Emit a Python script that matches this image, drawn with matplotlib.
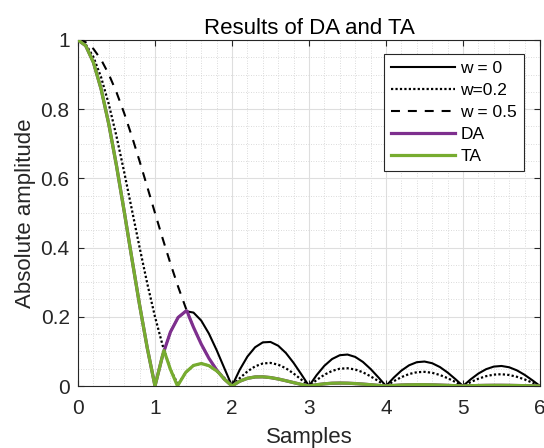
import matplotlib
matplotlib.use("Agg")
import matplotlib.pyplot as plt
from matplotlib.ticker import MultipleLocator

plt.rcParams['font.family'] = ['Liberation Sans', 'DejaVu Sans']

# ---------------- data ----------------
x_base = [0.0, 0.1, 0.2, 0.3, 0.4, 0.5, 0.6, 0.7, 0.8, 0.9,
          1.0, 1.1, 1.2, 1.3, 1.4, 1.5, 1.6, 1.7, 1.8, 1.9,
          2.0, 2.1, 2.2, 2.3, 2.4, 2.5, 2.6, 2.7, 2.8, 2.9,
          3.0, 3.1, 3.2, 3.3, 3.4, 3.5, 3.6, 3.7, 3.8, 3.9,
          4.0, 4.1, 4.2, 4.3, 4.4, 4.5, 4.6, 4.7, 4.8, 4.9,
          5.0, 5.1, 5.2, 5.3, 5.4, 5.5, 5.6, 5.7, 5.8, 5.9, 6.0]

w0 = [1.0, 0.9836, 0.9355, 0.8584, 0.7568, 0.6366, 0.5046, 0.3679, 0.2339, 0.1093,
      0.0, 0.0894, 0.1559, 0.1981, 0.2162, 0.2122, 0.1892, 0.1515, 0.1039, 0.0518,
      0.0, 0.0468, 0.0850, 0.1120, 0.1261, 0.1273, 0.1164, 0.0954, 0.0668, 0.0339,
      0.0, 0.0317, 0.0585, 0.0780, 0.0890, 0.0909, 0.0841, 0.0696, 0.0492, 0.0252,
      0.0, 0.0240, 0.0445, 0.0599, 0.0688, 0.0707, 0.0658, 0.0548, 0.0390, 0.0201,
      0.0, 0.0193, 0.0360, 0.0486, 0.0561, 0.0579, 0.0541, 0.0452, 0.0323, 0.0167, 0.0]

w02 = [1.0, 0.9876, 0.9511, 0.8924, 0.8145, 0.7215, 0.6181, 0.5093, 0.4002, 0.2957,
       0.2000, 0.1167, 0.0482, 0.0040, 0.0396, 0.0594, 0.0650, 0.0588, 0.0438, 0.0232,
       0.0, 0.0226, 0.0421, 0.0568, 0.0651, 0.0667, 0.0617, 0.0512, 0.0362, 0.0185,
       0.0, 0.0175, 0.0326, 0.0436, 0.0500, 0.0513, 0.0477, 0.0396, 0.0280, 0.0144,
       0.0, 0.0138, 0.0256, 0.0346, 0.0398, 0.0409, 0.0382, 0.0318, 0.0227, 0.0117,
       0.0, 0.0113, 0.0211, 0.0284, 0.0329, 0.0340, 0.0318, 0.0266, 0.0190, 0.0098, 0.0]

w05 = [1.0, 0.9936, 0.9745, 0.9433, 0.9010, 0.8488, 0.7884, 0.7214, 0.6497, 0.5752,
       0.5000, 0.4258, 0.3544, 0.2871, 0.2253, 0.1698, 0.1213, 0.0802, 0.0465, 0.0198,
       0.0, 0.0138, 0.0222, 0.0261, 0.0265, 0.0243, 0.0203, 0.0152, 0.0098, 0.0046,
       0.0, 0.0037, 0.0063, 0.0080, 0.0085, 0.0081, 0.0070, 0.0055, 0.0037, 0.0018,
       0.0, 0.0015, 0.0028, 0.0034, 0.0038, 0.0037, 0.0033, 0.0026, 0.0018, 0.0009,
       0.0, 0.0008, 0.0014, 0.0018, 0.0020, 0.0020, 0.0018, 0.0014, 0.0010, 0.0005, 0.0]

x_da = [0.0, 0.1, 0.2, 0.3, 0.4, 0.5, 0.6, 0.7, 0.8, 0.9,
        1.0, 1.1, 1.2, 1.3, 1.4, 1.416, 1.45, 1.5, 1.6, 1.7, 1.8, 1.9,
        2.0, 2.1, 2.2, 2.3, 2.4, 2.5, 2.6, 2.7, 2.8, 2.9,
        3.0, 3.1, 3.2, 3.3, 3.4, 3.5, 3.6, 3.7, 3.8, 3.9,
        4.0, 4.1, 4.2, 4.3, 4.4, 4.5, 4.6, 4.7, 4.8, 4.9,
        5.0, 5.1, 5.2, 5.3, 5.4, 5.5, 5.6, 5.7, 5.8, 5.9, 6.0]
da = [1.0, 0.9836, 0.9355, 0.8584, 0.7568, 0.6366, 0.5046, 0.3679, 0.2339, 0.1093,
      0.0, 0.0894, 0.1559, 0.1981, 0.2162, 0.2167, 0.1967, 0.1698, 0.1213, 0.0802, 0.0465, 0.0198,
      0.0, 0.0138, 0.0222, 0.0261, 0.0265, 0.0243, 0.0203, 0.0152, 0.0098, 0.0046,
      0.0, 0.0037, 0.0063, 0.0080, 0.0085, 0.0081, 0.0070, 0.0055, 0.0037, 0.0018,
      0.0, 0.0015, 0.0028, 0.0034, 0.0038, 0.0037, 0.0033, 0.0026, 0.0018, 0.0009,
      0.0, 0.0008, 0.0014, 0.0018, 0.0020, 0.0020, 0.0018, 0.0014, 0.0010, 0.0005, 0.0]

x_ta = [0.0, 0.1, 0.2, 0.3, 0.4, 0.5, 0.6, 0.7, 0.8, 0.9,
        1.0, 1.1, 1.117, 1.2, 1.292, 1.4, 1.5, 1.6, 1.7, 1.8, 1.83, 1.9,
        2.0, 2.1, 2.2, 2.3, 2.4, 2.5, 2.6, 2.7, 2.8, 2.9,
        3.0, 3.1, 3.2, 3.3, 3.4, 3.5, 3.6, 3.7, 3.8, 3.9,
        4.0, 4.1, 4.2, 4.3, 4.4, 4.5, 4.6, 4.7, 4.8, 4.9,
        5.0, 5.1, 5.2, 5.3, 5.4, 5.5, 5.6, 5.7, 5.8, 5.9, 6.0]
ta = [1.0, 0.9836, 0.9355, 0.8584, 0.7568, 0.6366, 0.5046, 0.3679, 0.2339, 0.1093,
      0.0, 0.0894, 0.1025, 0.0482, 0.0, 0.0396, 0.0594, 0.0650, 0.0588, 0.0438, 0.0378, 0.0198,
      0.0, 0.0138, 0.0222, 0.0261, 0.0265, 0.0243, 0.0203, 0.0152, 0.0098, 0.0046,
      0.0, 0.0037, 0.0063, 0.0080, 0.0085, 0.0081, 0.0070, 0.0055, 0.0037, 0.0018,
      0.0, 0.0015, 0.0028, 0.0034, 0.0038, 0.0037, 0.0033, 0.0026, 0.0018, 0.0009,
      0.0, 0.0008, 0.0014, 0.0018, 0.0020, 0.0020, 0.0018, 0.0014, 0.0010, 0.0005, 0.0]

labels = ['w = 0', 'w=0.2', 'w = 0.5', 'DA', 'TA']
x_ticks = [0, 1, 2, 3, 4, 5, 6]
y_ticks = [0, 0.2, 0.4, 0.6, 0.8, 1]
y_ticklabels = ['0', '0.2', '0.4', '0.6', '0.8', '1']

# ---------------- styling ----------------
TXT = '#262626'
PURPLE = '#7E2F8E'
GREEN = '#77AC30'

fig = plt.figure(figsize=(5.44, 4.48), dpi=100)
ax = fig.add_axes([78 / 544, 62 / 448, 462 / 544, 346 / 448])

ax.plot(x_base, w0, color='black', lw=1.5, label=labels[0], zorder=3)
ax.plot(x_base, w02, color='black', lw=1.6, linestyle=(0, (1, 1)), label=labels[1], zorder=3)
ax.plot(x_base, w05, color='black', lw=1.5, linestyle=(0, (4.3, 3.8)), label=labels[2], zorder=3)
ax.plot(x_da, da, color=PURPLE, lw=2.3, label=labels[3], zorder=4)
ax.plot(x_ta, ta, color=GREEN, lw=2.3, label=labels[4], zorder=5)

ax.set_xlim(0, 6)
ax.set_ylim(0, 1)
ax.set_xticks(x_ticks)
ax.set_yticks(y_ticks)
ax.set_yticklabels(y_ticklabels)
ax.xaxis.set_minor_locator(MultipleLocator(0.2))
ax.yaxis.set_minor_locator(MultipleLocator(0.05))

ax.grid(True, which='major', color='#dedede', lw=0.8, linestyle='-', zorder=0)
ax.grid(True, which='minor', color='#cfcfcf', lw=0.6, linestyle=(0, (1, 2)), zorder=0)
ax.set_axisbelow(True)

ax.tick_params(which='major', direction='in', length=4, width=0.8, color=TXT,
               labelsize=15, labelcolor=TXT, top=True, right=True)
ax.tick_params(axis='x', which='major', pad=9)
ax.tick_params(axis='y', which='major', pad=6)
ax.tick_params(which='minor', length=0, top=True, right=True)
for sp in ax.spines.values():
    sp.set_color(TXT)
    sp.set_linewidth(0.8)

ax.set_title('Results of DA and TA', fontsize=16, color='black', pad=4)
ax.set_xlabel('Samples', fontsize=16, color=TXT, labelpad=7)
ax.set_ylabel('Absolute amplitude', fontsize=16, color=TXT, labelpad=3)

leg = ax.legend(loc='upper right', bbox_to_anchor=(0.9654, 0.9595), borderaxespad=0,
                fontsize=12.5, handlelength=3.7, handletextpad=0.3, labelspacing=0.4,
                borderpad=0.4, frameon=True, fancybox=False, framealpha=1,
                edgecolor=TXT)
leg.get_frame().set_linewidth(0.8)
for t in leg.get_texts():
    t.set_color('black')

fig.savefig('out.png', dpi=100)
